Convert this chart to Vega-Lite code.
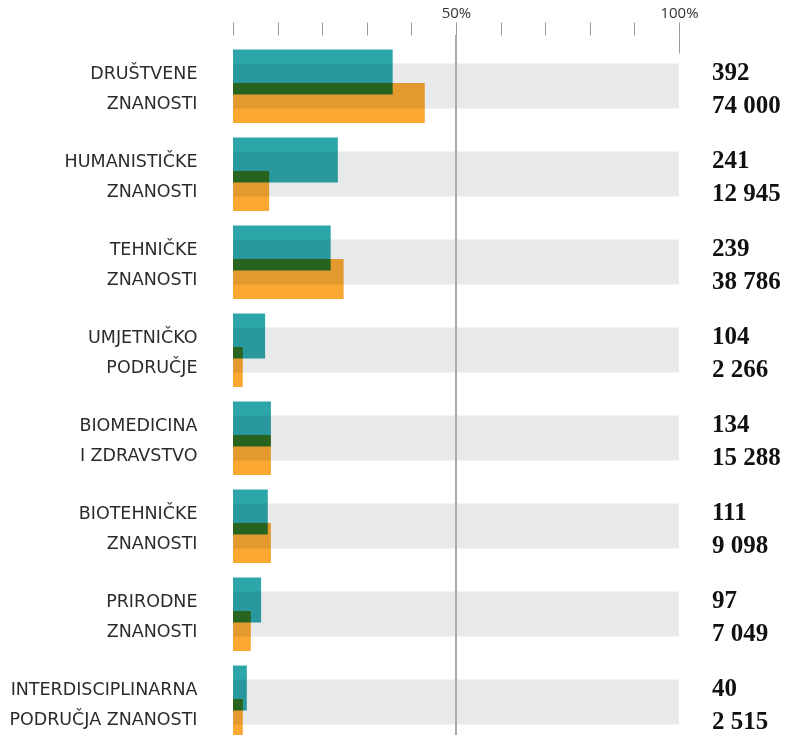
{
  "$schema": "https://vega.github.io/schema/vega-lite/v6.json",
  "autosize": {"type": "none"},
  "padding": {"left": 233, "top": 35, "right": 106, "bottom": 0},
  "width": 446,
  "height": {"step": 88},
  "background": "white",
  "config": {"view": {"stroke": null}},
  "data": {
    "values": [
      {"podrucje": "DRUŠTVENE\nZNANOSTI", "programi": 392, "studenti": 74000, "udioProgrami": 35.8, "udioStudenti": 43.0},
      {"podrucje": "HUMANISTIČKE\nZNANOSTI", "programi": 241, "studenti": 12945, "udioProgrami": 23.5, "udioStudenti": 8.1},
      {"podrucje": "TEHNIČKE\nZNANOSTI", "programi": 239, "studenti": 38786, "udioProgrami": 21.9, "udioStudenti": 24.8},
      {"podrucje": "UMJETNIČKO\nPODRUČJE", "programi": 104, "studenti": 2266, "udioProgrami": 7.2, "udioStudenti": 2.2},
      {"podrucje": "BIOMEDICINA\nI ZDRAVSTVO", "programi": 134, "studenti": 15288, "udioProgrami": 8.5, "udioStudenti": 8.5},
      {"podrucje": "BIOTEHNIČKE\nZNANOSTI", "programi": 111, "studenti": 9098, "udioProgrami": 7.8, "udioStudenti": 8.5},
      {"podrucje": "PRIRODNE\nZNANOSTI", "programi": 97, "studenti": 7049, "udioProgrami": 6.3, "udioStudenti": 4.0},
      {"podrucje": "INTERDISCIPLINARNA\nPODRUČJA ZNANOSTI", "programi": 40, "studenti": 2515, "udioProgrami": 3.1, "udioStudenti": 2.2}
    ]
  },
  "transform": [
    {"calculate": "replace(format(datum.programi, ','), ',', ' ')", "as": "lab1"},
    {"calculate": "replace(format(datum.studenti, ','), ',', ' ')", "as": "lab2"}
  ],
  "resolve": {"axis": {"x": "independent"}},
  "layer": [
    {
      "mark": {"type": "bar", "color": "#e8e9eb", "height": 45},
      "encoding": {
        "y": {
          "field": "podrucje", "type": "nominal", "sort": null,
          "scale": {"paddingInner": 0, "paddingOuter": 0.08},
          "axis": {
            "title": null, "domain": false, "ticks": false,
            "labelExpr": "split(datum.label, '\\n')",
            "labelFont": "DejaVu Sans", "labelFontSize": 17.5, "labelColor": "#2b2b2b",
            "labelLineHeight": 30, "labelPadding": 36, "labelOffset": -12,
            "labelBaseline": "middle", "labelAlign": "right", "labelLimit": 300
          }
        },
        "x": {
          "datum": 0, "type": "quantitative",
          "scale": {"domain": [0, 100], "nice": false, "zero": true},
          "axis": {
            "orient": "top", "title": null, "domain": false, "grid": false,
            "values": [0, 10, 20, 30, 40, 50, 60, 70, 80, 90, 100],
            "tickSize": 13, "tickColor": "#9a9a9a", "tickWidth": 1,
            "labelExpr": "datum.value == 50 || datum.value == 100 ? datum.value + '%' : ''",
            "labelFont": "Open Sans", "labelFontSize": 15, "labelColor": "#333333",
            "labelPadding": 1, "labelFlush": false, "labelOverlap": false
          }
        },
        "x2": {"datum": 100}
      }
    },
    {
      "mark": {"type": "rule", "color": "#ababab", "strokeWidth": 1.5},
      "encoding": {
        "x": {
          "datum": 50, "type": "quantitative",
          "axis": {
            "orient": "top", "title": null, "domain": false, "grid": false,
            "values": [100], "tickSize": -18, "tickColor": "#9a9a9a", "tickWidth": 1,
            "labels": false
          }
        }
      }
    },
    {
      "mark": {"type": "bar", "color": "#faa832", "height": 40, "yOffset": 17, "blend": "multiply"},
      "encoding": {
        "y": {"field": "podrucje", "type": "nominal", "sort": null},
        "x": {"field": "udioStudenti", "type": "quantitative", "axis": null}
      }
    },
    {
      "mark": {"type": "bar", "color": "#2da6aa", "height": 45, "yOffset": -14, "blend": "multiply"},
      "encoding": {
        "y": {"field": "podrucje", "type": "nominal", "sort": null},
        "x": {"field": "udioProgrami", "type": "quantitative", "axis": null}
      }
    },
    {
      "mark": {"type": "text", "align": "left", "baseline": "middle", "dx": 33, "dy": -14, "font": "Liberation Serif", "fontWeight": "bold", "fontSize": 25, "color": "#111111"},
      "encoding": {
        "y": {"field": "podrucje", "type": "nominal", "sort": null},
        "x": {"datum": 100, "type": "quantitative", "axis": null},
        "text": {"field": "lab1"}
      }
    },
    {
      "mark": {"type": "text", "align": "left", "baseline": "middle", "dx": 33, "dy": 19, "font": "Liberation Serif", "fontWeight": "bold", "fontSize": 25, "color": "#111111"},
      "encoding": {
        "y": {"field": "podrucje", "type": "nominal", "sort": null},
        "x": {"datum": 100, "type": "quantitative", "axis": null},
        "text": {"field": "lab2"}
      }
    }
  ]
}
